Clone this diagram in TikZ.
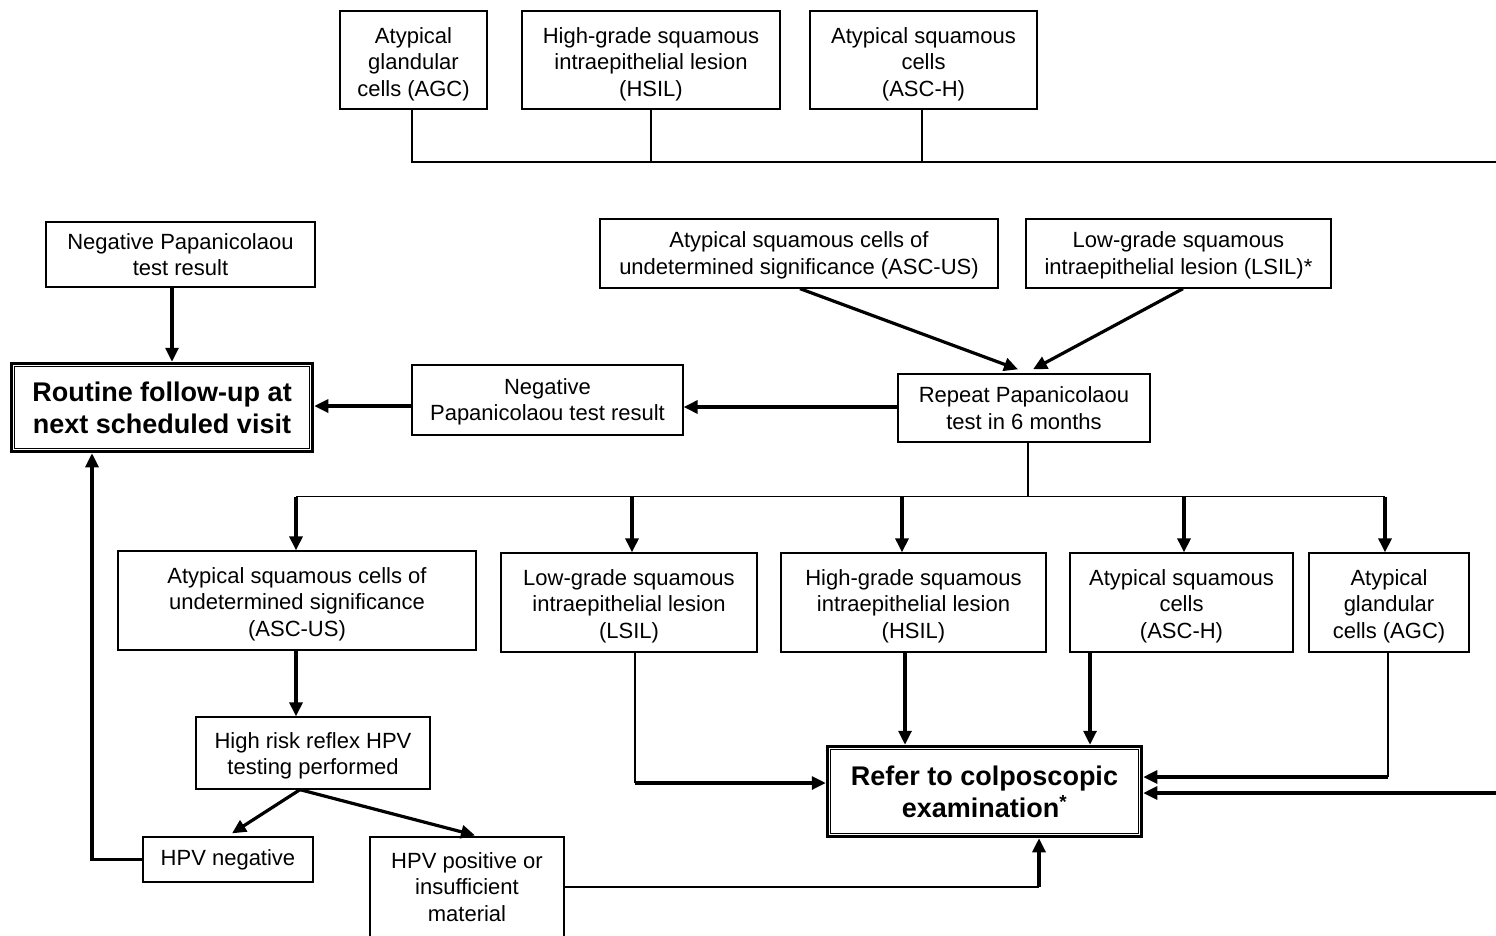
\documentclass[tikz,border=0pt]{standalone}
\usepackage{fontspec}
\setmainfont{Liberation Sans}
\usetikzlibrary{arrows.meta,calc}
\newcommand{\dn}[1]{\rule{0pt}{#1pt}}
\begin{document}
\begin{tikzpicture}[x=1pt,y=-1pt,
  box/.style={draw, line width=1.3pt, align=center, inner sep=0pt,
    font=\fontsize{22}{26.5}\selectfont},
  bigbox/.style={draw, line width=3.5pt, align=center, inner sep=0pt,
    font=\fontsize{27}{32}\selectfont\bfseries},
  thinln/.style={line width=1.3pt},
  arr/.style={line width=3.2pt, -{Triangle[length=14pt,width=13pt]}},
  inner/.style={line width=1.3pt}]
\useasboundingbox (0,0) rectangle (1496,935);
\clip (0,0) rectangle (1496,935);
\fill[white] (0,0) rectangle (1496,935);

% top row
\node[box, minimum width=147, minimum height=98] (tagc) at (413.5,60) {\dn{24}Atypical\\glandular\\cells (AGC)};
\node[box, minimum width=258, minimum height=98] (thsil) at (651,60) {\dn{24}High-grade squamous\\intraepithelial lesion\\(HSIL)};
\node[box, minimum width=227, minimum height=98] (tasch) at (923.5,60) {\dn{24}Atypical squamous\\cells\\(ASC-H)};
\coordinate (tend) at (1496,162);

% second row
\node[box, minimum width=269, minimum height=65] (negL) at (180.5,254.5) {Negative Papanicolaou\\test result};
\node[box, minimum width=398, minimum height=69] (ascusT) at (799,253.5) {\dn{20}Atypical squamous cells of\\undetermined significance (ASC-US)};
\node[box, minimum width=305, minimum height=69] (lsilT) at (1178.5,253.5) {\dn{20}Low-grade squamous\\intraepithelial lesion (LSIL)*};

\node[bigbox, minimum width=301, minimum height=88] (routine) at (162,407.5) {Routine follow-up at\\next scheduled visit};
\draw[inner] ([xshift=5pt,yshift=-5pt]routine.north west) rectangle ([xshift=-5pt,yshift=5pt]routine.south east);
\node[box, minimum width=271, minimum height=70] (negM) at (547.5,400) {\dn{20}Negative\\Papanicolaou test result};
\node[box, minimum width=252, minimum height=68] (repeat) at (1024,408) {Repeat Papanicolaou\\test in 6 months};

% third row
\node[box, minimum width=358, minimum height=99] (ascusM) at (297,600.5) {\dn{23}Atypical squamous cells of\\undetermined significance\\(ASC-US)};
\node[box, minimum width=256, minimum height=99] (lsilM) at (629,602.5) {\dn{23}Low-grade squamous\\intraepithelial lesion\\(LSIL)};
\node[box, minimum width=265, minimum height=99] (hsilM) at (913.5,602.5) {\dn{23}High-grade squamous\\intraepithelial lesion\\(HSIL)};
\node[box, minimum width=223, minimum height=99] (aschM) at (1181.5,602.5) {\dn{23}Atypical squamous\\cells\\(ASC-H)};
\node[box, minimum width=160, minimum height=99] (agcM) at (1389,602.5) {\dn{23}Atypical\\glandular\\cells (AGC)};

% lower part
\node[box, minimum width=234, minimum height=72] (hrisk) at (313,753) {\dn{21.5}High risk reflex HPV\\testing performed};
\node[box, minimum width=170, minimum height=45] (hpvneg) at (228,859.5) {HPV negative};
\node[box, minimum width=194, minimum height=100] (hpvpos) at (467,887) {HPV positive or\\insufficient\\material};
\node[bigbox, minimum width=314, minimum height=90] (colpo) at (984.5,791.5) {Refer to colposcopic\\examination\textsuperscript{*}};
\draw[inner] ([xshift=5pt,yshift=-5pt]colpo.north west) rectangle ([xshift=-5pt,yshift=5pt]colpo.south east);
\coordinate (redge) at (1496,793);

% top bus
\draw[thinln] ([xshift=-1.5pt]tagc.south) |- (tend);
\draw[thinln] (thsil.south) -- (thsil.south |- tend);
\draw[thinln] ([xshift=-1.5pt]tasch.south) -- ([xshift=-1.5pt]tasch.south |- tend);

% second row arrows
\draw[arr] ([xshift=-8.5pt]negL.south) -- ([xshift=-8.5pt]negL.south |- routine.north);
\draw[arr] ([xshift=1pt]ascusT.south) -- ([xshift=-6pt,yshift=4pt]repeat.north);
\draw[arr] ([xshift=4.5pt]lsilT.south) -- ([xshift=9pt,yshift=4pt]repeat.north);
\draw[arr] ([yshift=1pt]repeat.west) -- ([yshift=1pt]repeat.west -| negM.east);
\draw[arr] ([yshift=-6pt]negM.west) -- ([yshift=-6pt]negM.west -| routine.east);

% bus from repeat
\coordinate (bus) at ([xshift=4pt,yshift=-54pt]repeat.south);
\draw[thinln] ([xshift=4pt]repeat.south) -- (bus);
\draw[thinln] ([xshift=-1pt]ascusM.north |- bus) -- ([xshift=-4pt]agcM.north |- bus);
\draw[arr] ([xshift=-1pt]ascusM.north |- bus) -- ([xshift=-1pt]ascusM.north);
\draw[arr] ([xshift=3pt]lsilM.north |- bus) -- ([xshift=3pt]lsilM.north);
\draw[arr] ([xshift=-11.5pt]hsilM.north |- bus) -- ([xshift=-11.5pt]hsilM.north);
\draw[arr] ([xshift=2.5pt]aschM.north |- bus) -- ([xshift=2.5pt]aschM.north);
\draw[arr] ([xshift=-4pt]agcM.north |- bus) -- ([xshift=-4pt]agcM.north);

% ASC-US branch
\draw[arr] ([xshift=-1pt]ascusM.south) -- ([xshift=-1pt]ascusM.south |- hrisk.north);
\draw[arr] ([xshift=-13pt]hrisk.south) -- ([xshift=4pt,yshift=3pt]hpvneg.north);
\draw[arr] ([xshift=-13pt]hrisk.south) -- ([xshift=8pt,yshift=1pt]hpvpos.north);
\draw[arr] (hpvneg.west) -| ([xshift=-70pt]routine.south);
\coordinate (cpb) at ([xshift=54.5pt]colpo.south);
\draw[thinln] (hpvpos.east) -- (hpvpos.east -| cpb);
\draw[arr] (cpb |- hpvpos.east) -- (cpb);

% into colposcopic examination
\coordinate (cpl) at ([yshift=8.5pt]colpo.west);
\draw[thinln] ([xshift=6pt]lsilM.south) -- ([xshift=6pt]lsilM.south |- cpl);
\draw[arr] ([xshift=6pt]lsilM.south |- cpl) -- (cpl);
\draw[arr] ([xshift=-8.5pt]hsilM.south) -- ([xshift=-8.5pt]hsilM.south |- colpo.north);
\draw[arr] ([xshift=-91.5pt]aschM.south) -- ([xshift=-91.5pt]aschM.south |- colpo.north);
\coordinate (cpr) at ([yshift=14.5pt]colpo.east);
\draw[thinln] ([xshift=-1pt]agcM.south) -- ([xshift=-1pt]agcM.south |- cpr);
\draw[arr] ([xshift=-1pt]agcM.south |- cpr) -- (cpr);
\draw[arr] (redge) -- (redge -| colpo.east);
\end{tikzpicture}
\end{document}
